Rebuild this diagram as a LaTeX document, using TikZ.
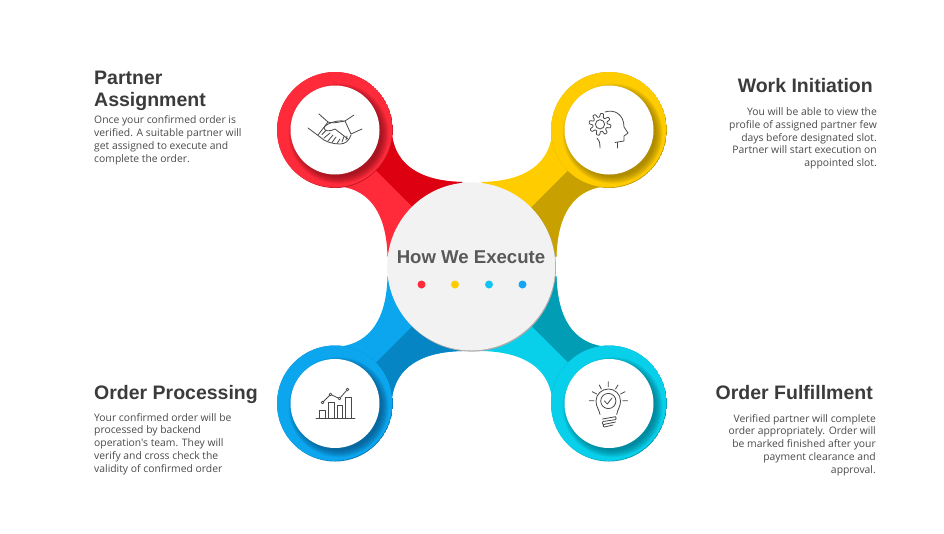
\documentclass[tikz,border=0pt]{standalone}
\usepackage{fontspec}
\setmainfont{Liberation Sans}
\newfontfamily\bodyfont{Open Sans}
\definecolor{redL}{HTML}{FF2A3A}\definecolor{redD}{HTML}{DC0011}\definecolor{redS}{HTML}{6E0A12}
\definecolor{yelL}{HTML}{FFCC00}\definecolor{yelD}{HTML}{C8A000}\definecolor{yelS}{HTML}{7A6200}
\definecolor{bluL}{HTML}{0BA6EE}\definecolor{bluD}{HTML}{0585C4}\definecolor{bluS}{HTML}{08406E}
\definecolor{cyaL}{HTML}{08D0EA}\definecolor{cyaD}{HTML}{009DB5}\definecolor{cyaS}{HTML}{005F70}
\definecolor{hubfill}{HTML}{F2F2F2}\definecolor{hubrim}{HTML}{ABABAB}
\definecolor{dotc}{HTML}{12C4F4}\definecolor{dotb}{HTML}{14A6F6}
\definecolor{titlec}{HTML}{3B3B3B}\definecolor{bodyc}{HTML}{4A4A4A}\definecolor{iconc}{HTML}{484848}
\tikzset{
  titletext/.style={inner sep=0pt,font=\fontsize{19.5}{22}\selectfont\bfseries,text=titlec},
  bodytext/.style={inner sep=0pt,font=\bodyfont\fontsize{10.35}{12.8}\selectfont,text=bodyc},
  icon/.style={draw=iconc,line width=0.8pt,line cap=round,line join=round},
  dot/.style={circle,inner sep=0pt,minimum size=8pt}
}
\newcommand{\petal}[4]{%
  \begin{scope}[shift={(hubc)},#1]
    \path[fill=#2] (-80,-131.5) .. controls (-76,-101.5) and (-52,-85.5) .. (-10,-84.5)
      -- (0,0) -- (-84.5,-10) .. controls (-85.5,-52) and (-101.5,-76) .. (-131.5,-80)
      -- (-137,-137) -- cycle;
    \begin{scope}
      \clip (-80,-131.5) .. controls (-76,-101.5) and (-52,-85.5) .. (-10,-84.5)
      -- (0,0) -- (-84.5,-10) .. controls (-85.5,-52) and (-101.5,-76) .. (-131.5,-80)
      -- (-137,-137) -- cycle;
      \fill[#3] (-137,-137) -- (0,0) -- #4 -- cycle;
    \end{scope}
  \end{scope}}
\newcommand{\ringdisc}[3]{%
  \begin{scope}
    \clip (#1) circle[radius=58];
    \fill[#3!45!#2] (#1) circle[radius=58];
    \fill[#2] ([shift={(-0.7,-0.7)}]#1) circle[radius=58];
    \foreach \rr in {43,44,...,50}{
      \fill[#3,opacity=0.10] ([shift={(3.6,3.6)}]#1) circle[radius=\rr];
    }
  \end{scope}
  \fill[white] (#1) circle[radius=44.5];}
\begin{document}
\begin{tikzpicture}[x=1pt,y=-1pt]
\useasboundingbox (0,0) rectangle (944,533);
\fill[white] (0,0) rectangle (944,533);
\coordinate (hubc) at (472,266.5);
\coordinate (rc1) at (335,130);
\coordinate (rc2) at (609,130);
\coordinate (rc3) at (335,403.5);
\coordinate (rc4) at (609,403.5);
\petal{}{redL}{redD}{(0,-200) -- (-137,-200)}
\petal{xscale=-1}{yelL}{yelD}{(-200,0) -- (-200,-137)}
\petal{yscale=-1}{bluL}{bluD}{(0,-200) -- (-137,-200)}
\petal{xscale=-1,yscale=-1}{cyaL}{cyaD}{(-200,0) -- (-200,-137)}
\ringdisc{rc1}{redL}{redS}
\ringdisc{rc2}{yelL}{yelS}
\ringdisc{rc3}{bluL}{bluS}
\ringdisc{rc4}{cyaL}{cyaS}
\fill[hubrim] (472,267.6) circle[radius=84];
\fill[hubfill] (471.2,266.4) circle[radius=84];
\node[inner sep=0pt,font=\fontsize{18.6}{22}\selectfont\bfseries,text=black!65] (hubtitle) at (471,257) {How We Execute};
\node[dot,fill=redL] (d1) at (421.5,284.5) {};
\node[dot,fill=yelL] (d2) at (455,284.5) {};
\node[dot,fill=dotc] (d3) at (489,284.5) {};
\node[dot,fill=dotb] (d4) at (522.5,284.5) {};
\begin{scope}[icon]
\draw (319,114) -- (328,122) -- (318,135);
\draw (308,128) -- (320,137);
\draw (354,115) -- (345,121) -- (351,134);
\draw (362,129) -- (351,134);
\draw (328,122) .. controls (333,124) and (338,122) .. (345,121);
\draw (344,121) .. controls (336,120) and (325,124) .. (324,128) .. controls (324,131) and (330,132) .. (335,129) -- (348,139);
\draw (320,137) .. controls (325,142) and (333,144) .. (340,144) .. controls (345,144) and (349,141) .. (351,135);
\draw (322,134.5) -- (326,130.5);
\draw (324,138) -- (330,133);
\draw (328,141) -- (333,135);
\draw (332,142.5) -- (336,137);
\draw (337,143.5) -- (340,139);
\draw (342,142) -- (344,136.5);
\draw (346,140) -- (347,136);
\draw plot[smooth,samples=121,domain=0:360] ({600+(9.1+1.9*tanh(2.5*sin(8*\x)))*cos(\x)},{124.3+(9.1+1.9*tanh(2.5*sin(8*\x)))*sin(\x)});
\draw (600,124.3) circle[radius=4.6];
\draw (605,112) .. controls (614,109) and (624,114) .. (624,127) -- (628,133) -- (624,136) -- (624,141) -- (615,142.5);
\draw (617,142.5) -- (617,148);
\draw (597,138) .. controls (599,140) and (600,142) .. (600,148);
\draw (316,418.5) -- (355,418.5);
\draw (319.5,418.5) -- (319.5,410) -- (325,410) -- (325,418.5);
\draw (328,418.5) -- (328,402.5) -- (334,402.5) -- (334,418.5);
\draw (337,418.5) -- (337,405) -- (342.5,405) -- (342.5,418.5);
\draw (345,418.5) -- (345,397.5) -- (351,397.5) -- (351,418.5);
\draw (322.5,402.5) circle[radius=1.4] (330.5,394.5) circle[radius=1.4] (339.5,398.5) circle[radius=1.4] (347.5,389.5) circle[radius=1.4];
\draw (323.5,401.5) -- (329.5,395.5) (331.8,395) -- (338.2,398) (340.5,397.4) -- (346.5,390.6);
\draw (600,414.5) .. controls (599,409) and (596,407) .. (596,401) .. controls (596,394) and (602,389) .. (608.3,389) .. controls (615,389) and (620.5,394) .. (620.5,401) .. controls (620.5,407) and (617.5,409) .. (616.7,414.5);
\draw (608.3,401) circle[radius=7.6];
\draw (604.5,401) -- (607.3,404) -- (612,398);
\draw (589.3,400.7) -- (594,400.7) (592.3,391.7) -- (596.7,394) (599.3,385) -- (601.3,389) (608.3,381.7) -- (608.3,386.7) (618,385) -- (615.5,389) (625,391.7) -- (620.5,394) (627.5,400.7) -- (622.8,400.7);
\draw (602.5,419) -- (615.5,416.7) .. controls (617,418) and (616,419.5) .. (615,419.7) -- (603,421.5) .. controls (601.5,423) and (602,424.5) .. (603.5,424.5) -- (615.5,422);
\draw (604,424.5) .. controls (602.5,426) and (603,427) .. (604.5,427) -- (613,425);
\end{scope}
\node[titletext,anchor=north west,align=left] (t1) at (94,70.5) {Partner\\Assignment};
\node[bodytext,anchor=north west,align=left] (b1) at (94,115.5) {Once your confirmed order is\\verified. A suitable partner will\\get assigned to execute and\\complete the order.};
\node[titletext,anchor=north east,align=right] (t2) at (873,78.5) {Work Initiation};
\node[bodytext,anchor=north east,align=right] (b2) at (877,107.5) {You will be able to view the\\profile of assigned partner few\\days before designated slot.\\Partner will start execution on\\appointed slot.};
\node[titletext,anchor=north west,align=left] (t3) at (94,385.5) {Order Processing};
\node[bodytext,anchor=north west,align=left] (b3) at (94,413) {Your confirmed order will be\\processed by backend\\operation's team. They will\\verify and cross check the\\validity of confirmed order};
\node[titletext,anchor=north east,align=right] (t4) at (873,385.5) {Order Fulfillment};
\node[bodytext,anchor=north east,align=right] (b4) at (876,414) {Verified partner will complete\\order appropriately. Order will\\be marked finished after your\\payment clearance and\\approval.};
\end{tikzpicture}
\end{document}
